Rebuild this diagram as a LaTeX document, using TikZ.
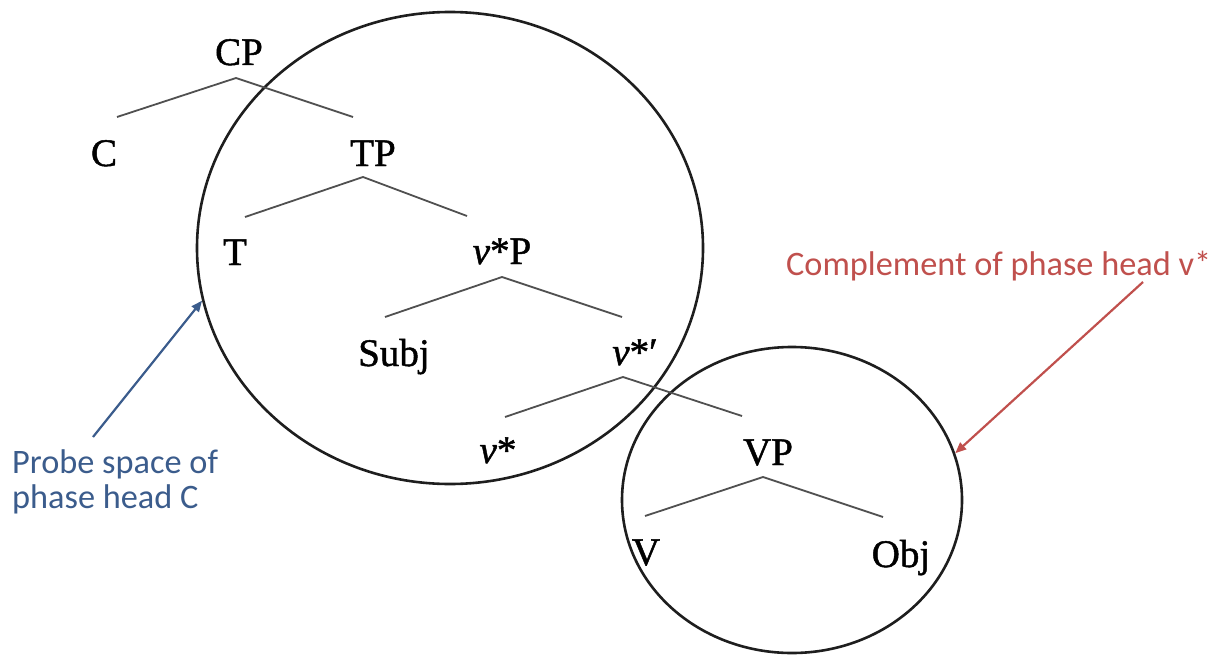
\documentclass[tikz,border=0pt]{standalone}
\usepackage{fontspec}
\setmainfont{Liberation Serif}
\newfontfamily\treefont{Liberation Serif}[FakeBold=1.2]
\newfontfamily\calib{Carlito}
\usetikzlibrary{arrows.meta,shapes.geometric}
\definecolor{probeblue}{RGB}{59,92,140}
\definecolor{compred}{RGB}{192,80,77}
\definecolor{branchgray}{RGB}{80,80,80}
\definecolor{ringcol}{RGB}{30,30,30}
\begin{document}
\begin{tikzpicture}[x=1pt,y=-1pt,
  lab/.style={font=\treefont\fontsize{39}{44}\selectfont, inner sep=0pt, anchor=base},
  note/.style={font=\calib\fontsize{34.3}{36}\selectfont, inner sep=0pt, anchor=base west},
  branch/.style={draw=branchgray, line width=1.8pt},
  ring/.style={draw=ringcol, line width=2.6pt, ellipse, inner sep=0pt},
  pointer/.style={line width=2.2pt, -{Triangle[length=11pt,width=9pt]}}]
\useasboundingbox (0,0) rectangle (1212,658);

% phase circles
\node[ring, minimum width=506pt, minimum height=472pt] (probe) at (450,248) {};
\node[ring, minimum width=340pt, minimum height=306pt] (comp) at (792,500) {};

% tree labels
\node[lab] (CP)   at (239,65)  {CP};
\node[lab] (C)    at (104,166) {C};
\node[lab] (TP)   at (373,166) {TP};
\node[lab] (T)    at (235,265) {T};
\node[lab] (vP)   at (502,264) {\textit{ν}*P};
\node[lab] (Subj) at (394,366) {Subj};
\node[lab] (vbar) at (635,365) {\textit{ν}*\char"2032};
\node[lab] (v)    at (498,463) {\textit{ν}*};
\node[lab] (VP)   at (768,465) {VP};
\node[lab] (V)    at (646,565) {V};
\node[lab] (Obj)  at (901,567) {Obj};

% branch points
\coordinate (cpA) at (236,78);  \coordinate (cpL) at (117,117); \coordinate (cpR) at (353,117);
\coordinate (tpA) at (363,177); \coordinate (tpL) at (245,217); \coordinate (tpR) at (467,216);
\coordinate (vpA) at (502,277); \coordinate (vpL) at (385,317); \coordinate (vpR) at (622,317);
\coordinate (vbA) at (623,377); \coordinate (vbL) at (505,417); \coordinate (vbR) at (742,416);
\coordinate (VPA) at (763,477); \coordinate (VPL) at (645,516); \coordinate (VPR) at (883,517);

\draw[branch] (cpL) -- (cpA) -- (cpR);
\draw[branch] (tpL) -- (tpA) -- (tpR);
\draw[branch] (vpL) -- (vpA) -- (vpR);
\draw[branch] (vbL) -- (vbA) -- (vbR);
\draw[branch] (VPL) -- (VPA) -- (VPR);

% annotations
\node[note, text=probeblue] (probetxt1) at (12,473) {Probe space of};
\node[note, text=probeblue] (probetxt2) at (12,508) {phase head C};
\node[note, text=compred] (comptxt) at (786,275) {Complement of phase head v*};

\coordinate (blueTail) at (93,437);
\coordinate (redTail) at (1143,282);
\draw[pointer, probeblue] (blueTail) -- (probe.192);
\draw[pointer, compred] (redTail) -- (comp.16);
\end{tikzpicture}
\end{document}
